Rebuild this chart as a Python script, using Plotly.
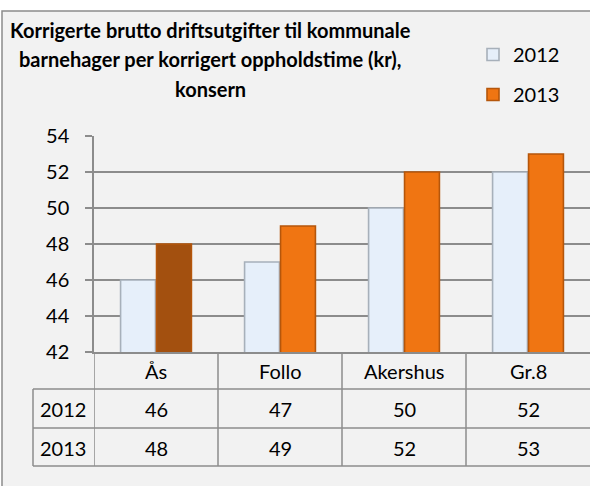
import plotly.graph_objects as go

categories = ["Ås", "Follo", "Akershus", "Gr.8"]
series_names = ["2012", "2013"]
values_2012 = [46, 47, 50, 52]
values_2013 = [48, 49, 52, 53]
y_ticks = [42, 44, 46, 48, 50, 52, 54]
title_lines = [
    "Korrigerte brutto driftsutgifter til kommunale",
    "barnehager per korrigert oppholdstime (kr),",
    "konsern",
]

W, H = 590, 486
L, R, T, B = 94, 0, 136, 134
PW = W - L - R
PH = H - T - B
FONT = "Lato"
GRID = "#8c8c8c"


def px(x):
    return (x - L) / PW


def py(y):
    return (H - B - y) / PH


c2012 = "#e6effa"
c2013 = ["#a3500f", "#f07512", "#f07512", "#f07512"]

# order the 2013 points so the legend swatch takes the regular orange colour;
# the x axis keeps the category order through categoryarray
order = [1, 2, 3, 0]

fig = go.Figure()
fig.add_trace(go.Bar(
    name=series_names[0], x=categories, y=values_2012,
    marker=dict(color=c2012, line=dict(color="#a7b0ba", width=1.6)),
    legendgroup="a",
))
fig.add_trace(go.Bar(
    name=series_names[1],
    x=[categories[i] for i in order], y=[values_2013[i] for i in order],
    marker=dict(color=[c2013[i] for i in order], line=dict(color="#b5560b", width=1.6)),
    legendgroup="b",
))

shapes = []
shapes.append(dict(type="rect", xref="paper", yref="paper",
                   x0=px(2), x1=px(610), y0=py(11), y1=py(520),
                   fillcolor="#f2f2f2", line=dict(color="#8c8c8c", width=1.5),
                   layer="below"))
for yy in (389, 428, 466):
    shapes.append(dict(type="line", xref="paper", yref="paper",
                       x0=px(33), x1=1, y0=py(yy), y1=py(yy),
                       line=dict(color=GRID, width=1.5)))
shapes.append(dict(type="line", xref="paper", yref="paper",
                   x0=px(33), x1=px(33), y0=py(389), y1=py(466),
                   line=dict(color=GRID, width=1.5)))
for i in range(len(categories)):
    shapes.append(dict(type="line", xref="x", yref="paper",
                       x0=i - 0.5, x1=i - 0.5, y0=0, y1=py(466),
                       line=dict(color=GRID, width=1.5)))

ann = []
title_y = [30, 59.5, 89]
for line, yy in zip(title_lines, title_y):
    ann.append(dict(text="<b>%s</b>" % line, xref="paper", yref="paper",
                    x=px(210), y=py(yy), xanchor="center", yanchor="middle",
                    showarrow=False, font=dict(family=FONT, size=20, color="#000")))
row_y = [371, 409, 448]
tfont = dict(family=FONT, size=20, color="#000")
for i, c in enumerate(categories):
    for val, yy in ((c, row_y[0]), (values_2012[i], row_y[1]), (values_2013[i], row_y[2])):
        ann.append(dict(text=str(val), xref="x", yref="paper", x=c, y=py(yy),
                        xanchor="center", yanchor="middle",
                        showarrow=False, font=tfont))
for name, yy in zip(series_names, row_y[1:]):
    ann.append(dict(text=name, xref="paper", yref="paper", x=px(63), y=py(yy),
                    xanchor="center", yanchor="middle",
                    showarrow=False, font=tfont))

fig.update_layout(
    width=W, height=H,
    margin=dict(l=L, r=R, t=T, b=B, pad=0),
    paper_bgcolor="#ffffff", plot_bgcolor="rgba(0,0,0,0)",
    barmode="group", bargap=0.42, bargroupgap=0.03,
    font=dict(family=FONT, size=20, color="#000"),
    showlegend=True,
    legend=dict(x=px(473), y=py(35), xanchor="left", yanchor="top",
                bgcolor="rgba(0,0,0,0)", font=dict(family=FONT, size=20),
                tracegroupgap=11, itemclick=False),
    xaxis=dict(range=[-0.5, 3.5], showticklabels=False, ticks="",
               categoryorder="array", categoryarray=categories,
               showgrid=False, showline=True, linecolor=GRID, linewidth=1.5,
               zeroline=False, fixedrange=True),
    yaxis=dict(range=[42, 54], tickvals=y_ticks, showgrid=True, gridcolor=GRID,
               gridwidth=1.5, ticks="outside", ticklen=7, tickcolor=GRID,
               tickwidth=1.5, showline=True, linecolor=GRID, linewidth=1.5,
               zeroline=False, ticklabelstandoff=12,
               tickfont=dict(family=FONT, size=20), fixedrange=True),
    shapes=shapes, annotations=ann,
)

fig.write_html("out.html", config={"displayModeBar": False},
               post_script="document.body.style.margin='0';document.body.style.overflow='hidden';")
